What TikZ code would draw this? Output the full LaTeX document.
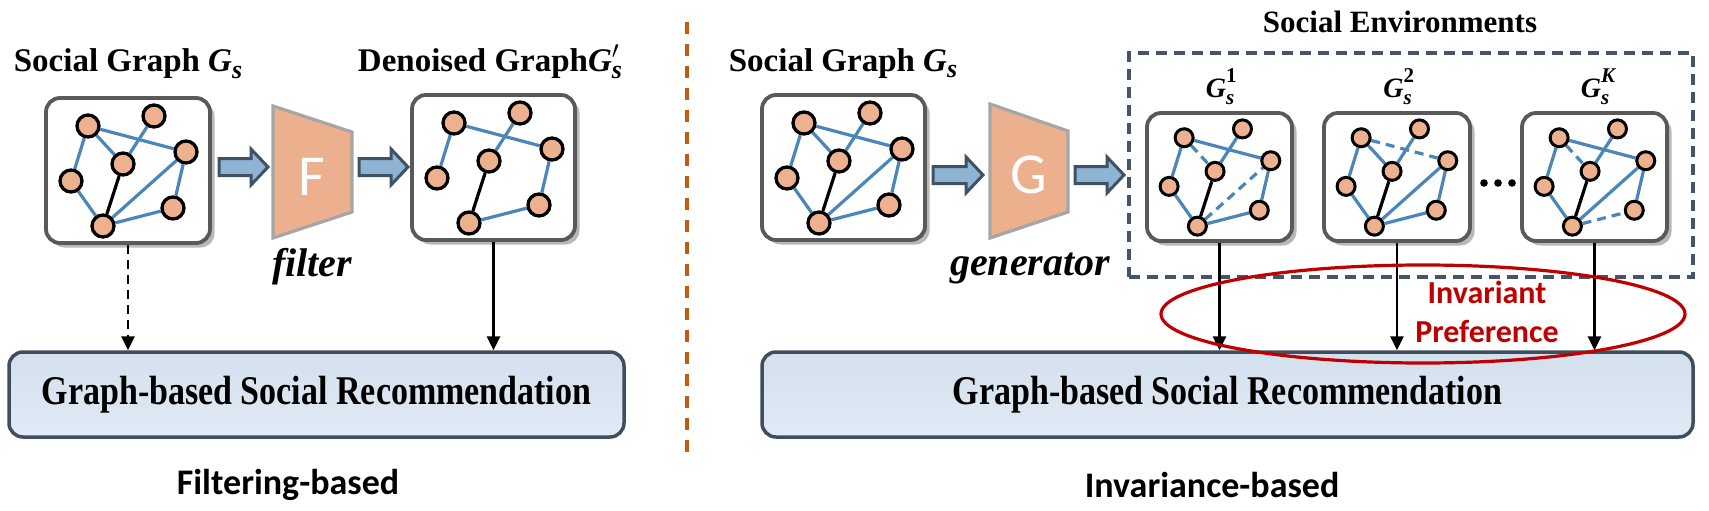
\documentclass[tikz,border=0pt]{standalone}
\usepackage{fontspec}
\usepackage{amsmath}
\usepackage{graphicx}
\setmainfont{Liberation Serif}
\newfontfamily\calib{Carlito}
\usetikzlibrary{arrows.meta,shapes.geometric,shadows,calc}
\definecolor{nodefill}{HTML}{EDB18F}
\definecolor{edgeblue}{HTML}{4A86BA}
\definecolor{boxgray}{HTML}{595959}
\definecolor{arrfill}{HTML}{8FB3D3}
\definecolor{arrdraw}{HTML}{3F5263}
\definecolor{trapfill}{HTML}{EDB08E}
\definecolor{trapdraw}{HTML}{A6A6A6}
\definecolor{rectop}{HTML}{D3E0ED}
\definecolor{recbot}{HTML}{E1EAF5}
\definecolor{recdraw}{HTML}{3F4E5E}
\definecolor{envdraw}{HTML}{44546A}
\definecolor{sepor}{HTML}{C55A11}
\definecolor{invred}{HTML}{C00000}
\pgfdeclarelayer{bg}\pgfdeclarelayer{edge}\pgfsetlayers{bg,edge,main}
\newcommand\fs[1]{\fontsize{#1}{#1}\selectfont}
\newcommand\bi[1]{\textbf{\textit{#1}}}
% G with subscript s (title size)
\newcommand\Gsub[1]{\bi{G}\raisebox{-0.2em}{\fs{26}\bi{s}}#1}
% G with stacked sub s and sup
\newcommand\Genv[1]{\bi{G}\makebox[0pt][l]{\raisebox{0.5em}{\fs{21}\textbf{#1}}}\raisebox{-0.28em}{\fs{21}\bi{s}}\hspace{0.1em}}
\tikzset{
 gnode/.style={circle,fill=nodefill,draw=black,line width=3.3pt,minimum size=22pt,inner sep=0pt},
 snode/.style={gnode,minimum size=18pt,line width=3pt},
 bedge/.style={draw=edgeblue,line width=3.2pt},
 kedge/.style={draw=black,line width=3.2pt},
 dedge/.style={bedge,dash pattern=on 9pt off 6pt},
 gbox/.style={draw=boxgray,line width=3.8pt,fill=white,rounded corners=14pt,inner sep=0pt,
   drop shadow={shadow xshift=4.5pt,shadow yshift=-4.5pt,fill=black!28,opacity=1}},
 recbox/.style={draw=recdraw,line width=3.5pt,rounded corners=14pt,top color=rectop,bottom color=recbot,
   minimum height=85pt,inner sep=0pt,font=\fs{34}\bfseries},
 barrowst/.style={line width=3pt,draw=arrdraw,fill=arrfill,line join=miter},
 trap/.style={fill=trapfill,draw=trapdraw,line width=3.2pt,line join=miter},
 trapletter/.style={font=\calib\fs{58},text=white,inner sep=0pt},
 title/.style={anchor=base,font=\fs{33}\bfseries,inner sep=0pt},
 envlabel/.style={anchor=base,font=\fs{28},inner sep=0pt},
 varrow/.style={draw=black,line width=2.8pt,-{Triangle[length=14pt,width=13pt]}},
 envdash/.style={draw=envdraw,line width=3.3pt,dash pattern=on 11pt off 7pt,minimum width=564pt,minimum height=224pt,inner sep=0pt},
 sepline/.style={draw=sepor,line width=3.2pt,dash pattern=on 12pt off 10pt},
 caption/.style={font=\calib\fs{36}\bfseries,inner sep=0pt},
 italbl/.style={anchor=base,font=\fs{40}\bfseries\itshape,inner sep=0pt}
}
\newcommand\gnodes[5]{%
 \begin{scope}[shift={(#2,#3)},scale=#4]
 \foreach \i/\a/\b in {1/42/28,2/108/18,3/140/54,4/77/66,5/25/83,6/127/110,7/57/128}
   {\node[#5] (#1\i) at (\a,\b) {};}
 \end{scope}}
\newcommand\gedges[3]{%
 \begin{pgfonlayer}{edge}\foreach \a/\b in {#3}{\draw[#2] (#1\a) -- (#1\b);}\end{pgfonlayer}}
\newcommand\barrow[3]{%
 \draw[barrowst] (#1,#3-8.5) -- (#2-17,#3-8.5) -- (#2-17,#3-18) -- (#2,#3) -- (#2-17,#3+18) -- (#2-17,#3+8.5) -- (#1,#3+8.5) -- cycle;}
\begin{document}
\begin{tikzpicture}[x=1pt,y=-1pt]
\useasboundingbox (0,0) rectangle (1709,511);
% boxes
\begin{pgfonlayer}{bg}
\node[gbox,minimum width=164pt,minimum height=145pt] (LB) at (128,170.5) {};
\node[gbox,minimum width=163pt,minimum height=145pt] (DB) at (493.5,167.5) {};
\node[gbox,minimum width=163pt,minimum height=145pt] (RB) at (843.5,167.5) {};
\node[gbox,minimum width=145pt,minimum height=128pt] (E1B) at (1219.5,177) {};
\node[gbox,minimum width=146pt,minimum height=128pt] (E2B) at (1397,177) {};
\node[gbox,minimum width=145pt,minimum height=128pt] (E3B) at (1594.5,177) {};
\end{pgfonlayer}
% graph nodes
\gnodes{L}{46}{98}{1}{gnode}
\gnodes{D}{412}{95}{1}{gnode}
\gnodes{R}{762}{95}{1}{gnode}
\gnodes{A}{1147}{113}{0.884}{snode}
\gnodes{B}{1324}{113}{0.884}{snode}
\gnodes{C}{1522}{113}{0.884}{snode}
% edges
\gedges{L}{bedge}{1/5,1/4,1/3,2/4,5/7,7/3,7/6,3/6}
\gedges{L}{kedge}{4/7}
\gedges{D}{bedge}{1/5,1/3,2/4,7/6,3/6}
\gedges{D}{kedge}{4/7}
\gedges{R}{bedge}{1/5,1/4,1/3,2/4,5/7,7/3,7/6,3/6}
\gedges{R}{kedge}{4/7}
\gedges{A}{bedge}{1/5,1/3,2/4,5/7,7/6,3/6}
\gedges{A}{dedge}{1/4,7/3}
\gedges{A}{kedge}{4/7}
\gedges{B}{bedge}{1/5,1/4,2/4,5/7,7/3,7/6,3/6}
\gedges{B}{dedge}{1/3}
\gedges{B}{kedge}{4/7}
\gedges{C}{bedge}{1/5,1/3,2/4,5/7,7/3,3/6}
\gedges{C}{dedge}{1/4,7/6}
\gedges{C}{kedge}{4/7}
% titles
\node[title] (tL) at (128,72) {Social Graph \Gsub{}};
\node[title] (tD) at (490,72) {Denoised Graph\bi{G}\makebox[0pt][l]{\raisebox{0.42em}{\fs{26}$\prime$}}\raisebox{-0.2em}{\fs{26}\bi{s}}};
\node[title] (tR) at (843,71) {Social Graph \Gsub{}};
\node[anchor=base,font=\fs{31}\bfseries,inner sep=0pt] (tE) at (1400,33) {Social Environments};
\node[envlabel] (l1) at (1220,97) {\Genv{1}};
\node[envlabel] (l2) at (1397.5,97) {\Genv{2}};
\node[envlabel] (l3) at (1595,97) {\bi{G}\makebox[0pt][l]{\raisebox{0.5em}{\fs{21}\bi{K}}}\raisebox{-0.28em}{\fs{21}\bi{s}}\hspace{0.35em}};
% env dashed box
\node[envdash] (ENV) at (1411,165) {};
% dots
\fill (1484,183) circle[radius=3.8pt] (1498,183) circle[radius=3.8pt] (1512,183) circle[radius=3.8pt];
% trapezoids
\draw[trap] (273,106) -- (352,132) -- (352,212) -- (273,238) -- cycle;
\node[trapletter] (Fl) at (312,177) {F};
\draw[trap] (990,104) -- (1068,131) -- (1068,212) -- (990,238) -- cycle;
\node[trapletter] (Gl) at (1029,175) {G};
\node[italbl] (filt) at (312,276) {filter};
\node[italbl] (gen) at (1030,275) {generator};
% block arrows
\barrow{219}{268}{167}
\barrow{359}{408}{167}
\barrow{933}{983}{175}
\barrow{1075}{1124}{175}
% separator
\draw[sepline] (687,22) -- (687,458);
% rec boxes
\node[recbox,minimum width=615pt] (REC1) at (316.5,394.5) {\scalebox{1}[1.2]{Graph-based Social Recommendation}};
\node[recbox,minimum width=931pt] (REC2) at (1227.5,394.5) {\scalebox{1}[1.2]{Graph-based Social Recommendation}};
% vertical arrows
\draw[varrow,dash pattern=on 9pt off 6pt] (LB.south) -- (LB.south |- REC1.north);
\draw[varrow] (DB.south) -- (DB.south |- REC1.north);
\draw[varrow] (E1B.south) -- (E1B.south |- REC2.north);
\draw[varrow] (E2B.south) -- (E2B.south |- REC2.north);
\draw[varrow] (E3B.south) -- (E3B.south |- REC2.north);
% ellipse
\node[ellipse,draw=invred,line width=3.2pt,minimum width=524pt,minimum height=98pt,inner sep=0pt] (ELL) at (1423,314) {};
\node[font=\calib\fontsize{32}{39}\selectfont\bfseries,text=invred,align=center,inner sep=0pt] (IP) at (1487,312) {Invariant\\Preference};
% captions
\node[caption] (c1) at (288,485) {Filtering-based};
\node[caption] (c2) at (1212,485) {Invariance-based};
\end{tikzpicture}
\end{document}
